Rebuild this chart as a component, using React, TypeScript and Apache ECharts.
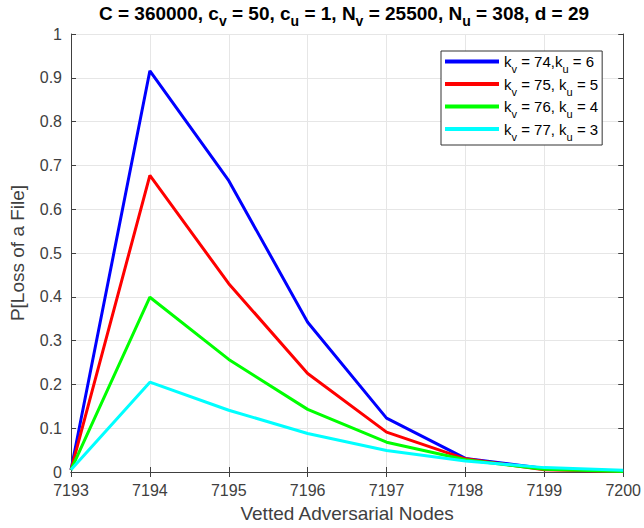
import React, { useEffect, useRef } from "react";
import * as echarts from "echarts";

const xValues = [7193, 7194, 7195, 7196, 7197, 7198, 7199, 7200];
const blueVals = [0.005, 0.916, 0.665, 0.342, 0.123, 0.031, 0.008, 0.002];
const redVals = [0.005, 0.677, 0.43, 0.225, 0.091, 0.03, 0.005, 0.001];
const greenVals = [0.005, 0.399, 0.257, 0.143, 0.068, 0.028, 0.006, 0.001];
const cyanVals = [0.005, 0.205, 0.141, 0.088, 0.049, 0.025, 0.01, 0.004];

const seriesNames = ["s1", "s2", "s3", "s4"];
const legendParts: [string, string, string, string, string][] = [
  ["k", "v", " = 74,k", "u", " = 6"],
  ["k", "v", " = 75, k", "u", " = 5"],
  ["k", "v", " = 76, k", "u", " = 4"],
  ["k", "v", " = 77, k", "u", " = 3"],
];
const colors = ["#0000ff", "#ff0000", "#00ff00", "#00ffff"];
const allVals = [blueVals, redVals, greenVals, cyanVals];

const FONT = "Liberation Sans, Arial, sans-serif";
const AX = "#404040";

export default function App() {
  const ref = useRef<HTMLDivElement>(null);
  useEffect(() => {
    if (!ref.current) return;
    const chart = echarts.init(ref.current, undefined, { renderer: "svg" });
    const rich = {
      n: { fontSize: 15, color: "#000", fontFamily: FONT, lineHeight: 20, verticalAlign: "middle" as const },
      s: { fontSize: 11, color: "#000", fontFamily: FONT, lineHeight: 4, verticalAlign: "bottom" as const, padding: [0, 0, -3, 0] },
    };
    const titleRich = {
      b: { fontSize: 19, fontWeight: "bold" as const, color: "#000", fontFamily: FONT, lineHeight: 22, verticalAlign: "middle" as const },
      s: { fontSize: 14, fontWeight: "bold" as const, color: "#000", fontFamily: FONT, lineHeight: 4, verticalAlign: "bottom" as const, padding: [0, 0, -4, 0] },
    };
    chart.setOption({
      animation: false,
      backgroundColor: "#fff",
      title: {
        text: "{b|C = 360000, c}{s|v}{b| = 50, c}{s|u}{b| = 1, N}{s|v}{b| = 25500, N}{s|u}{b| = 308, d = 29}",
        left: 344,
        textAlign: "center",
        top: 0,
        padding: [2, 0, 0, 0],
        textStyle: { rich: titleRich },
      },
      legend: {
        orient: "vertical",
        left: 441,
        top: 51,
        padding: [3, 4, 3, 4],
        itemGap: 2,
        itemWidth: 54,
        itemHeight: 4,
        icon: "rect",
        backgroundColor: "#fff",
        borderColor: "#333",
        borderWidth: 1,
        borderRadius: 0,
        data: seriesNames,
        formatter: (name: string) => {
          const p = legendParts[seriesNames.indexOf(name)];
          return `{n|${p[0]}}{s|${p[1]}}{n|${p[2]}}{s|${p[3]}}{n|${p[4]}}`;
        },
        textStyle: { rich },
      },
      grid: { left: 67, right: 19, top: 34, bottom: 55, containLabel: false },
      xAxis: [
        {
          type: "value",
          min: 7193,
          max: 7200,
          interval: 1,
          name: "Vetted Adversarial Nodes",
          nameLocation: "middle",
          nameGap: 32,
          nameTextStyle: { fontSize: 19, color: AX, fontFamily: FONT },
          axisLine: { show: true, lineStyle: { color: AX, width: 1 } },
          axisTick: { show: true, inside: true, length: 5, lineStyle: { color: AX } },
          axisLabel: { fontSize: 16, color: AX, fontFamily: FONT, margin: 10, formatter: (v: number) => String(v) },
          splitLine: { show: true, lineStyle: { color: "#e6e6e6", width: 1 } },
        },
        {
          type: "value",
          position: "top",
          min: 7193,
          max: 7200,
          interval: 1,
          axisLine: { show: true, lineStyle: { color: AX, width: 1 } },
          axisTick: { show: true, inside: true, length: 5, lineStyle: { color: AX } },
          axisLabel: { show: false },
          splitLine: { show: false },
        },
      ],
      yAxis: [
        {
          type: "value",
          min: 0,
          max: 1,
          interval: 0.1,
          name: "P[Loss of a File]",
          nameLocation: "middle",
          nameGap: 44,
          nameTextStyle: { fontSize: 19, color: AX, fontFamily: FONT },
          axisLine: { show: true, lineStyle: { color: AX, width: 1 } },
          axisTick: { show: true, inside: true, length: 5, lineStyle: { color: AX } },
          axisLabel: {
            fontSize: 16,
            color: AX,
            fontFamily: FONT,
            margin: 9,
            formatter: (v: number) => (v === 0 ? "0" : v === 1 ? "1" : String(Math.round(v * 10) / 10)),
          },
          splitLine: { show: true, lineStyle: { color: "#e6e6e6", width: 1 } },
        },
        {
          type: "value",
          position: "right",
          min: 0,
          max: 1,
          interval: 0.1,
          axisLine: { show: true, lineStyle: { color: AX, width: 1 } },
          axisTick: { show: true, inside: true, length: 5, lineStyle: { color: AX } },
          axisLabel: { show: false },
          splitLine: { show: false },
        },
      ],
      series: seriesNames.map((name, i) => ({
        name,
        type: "line",
        xAxisIndex: 0,
        yAxisIndex: 0,
        showSymbol: false,
        symbol: "none",
        color: colors[i],
        lineStyle: { color: colors[i], width: 3 },
        data: xValues.map((x, j) => [x, allVals[i][j]]),
      })),
    });
    return () => chart.dispose();
  }, []);
  return <div ref={ref} style={{ width: 644, height: 528, position: "absolute", left: 0, top: 0 }} />;
}
